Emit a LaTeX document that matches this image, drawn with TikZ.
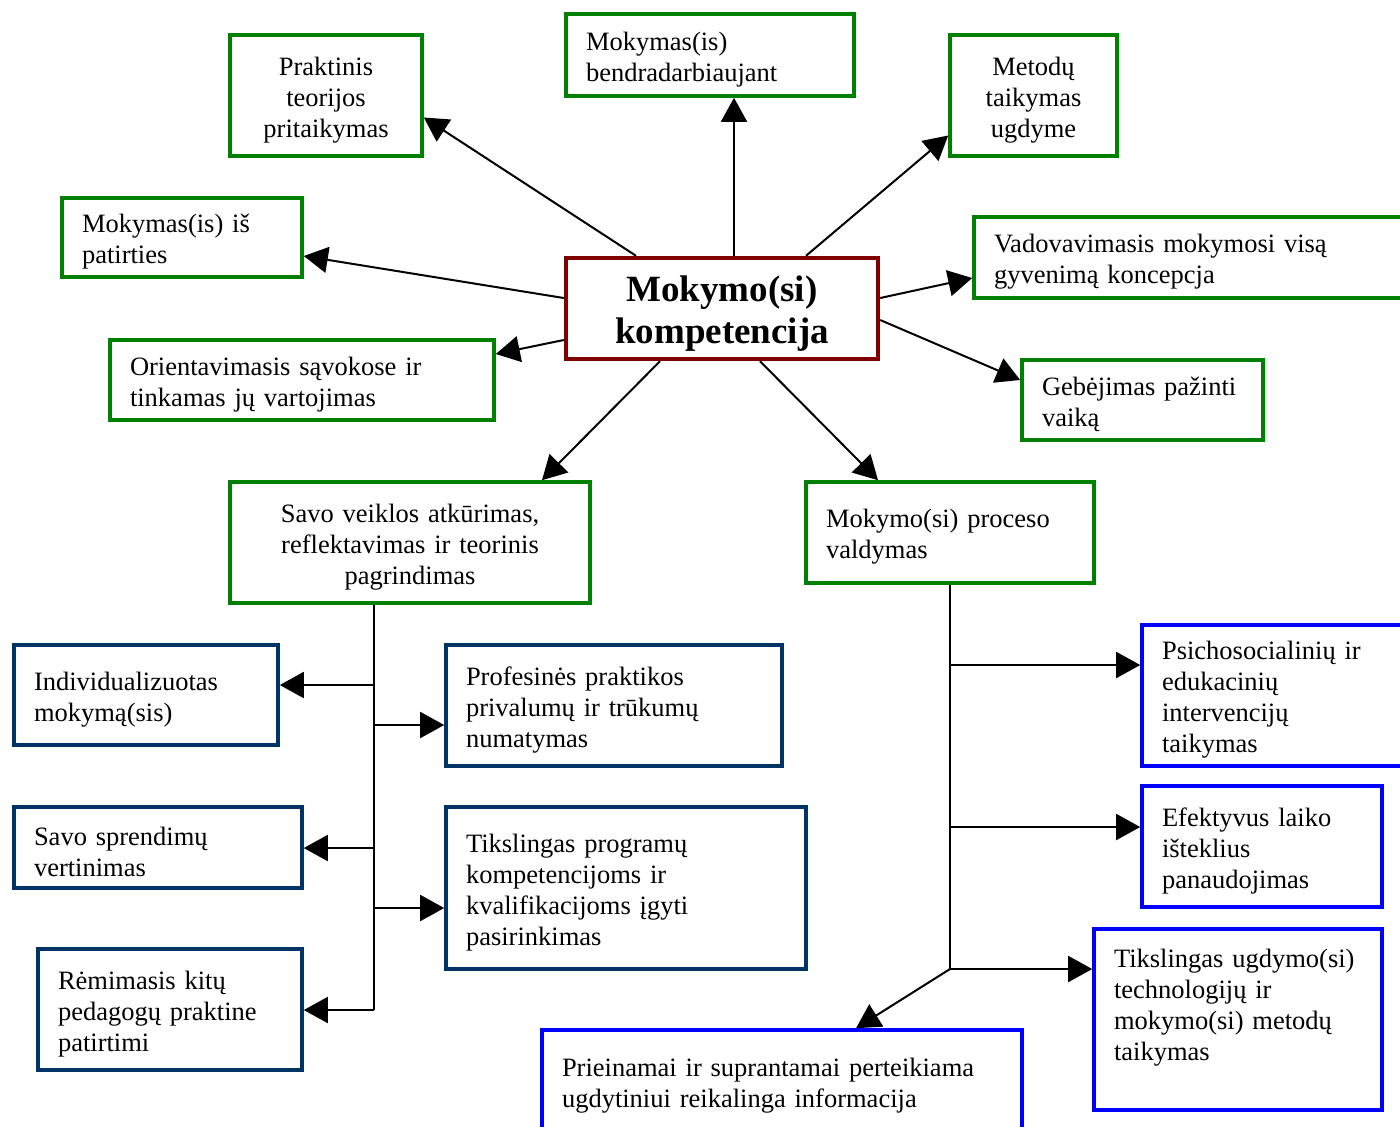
\documentclass[tikz,border=0pt]{standalone}
\usepackage{fontspec}
\setmainfont{Liberation Serif}
\usetikzlibrary{arrows.meta}
\definecolor{kgreen}{RGB}{0,128,0}
\definecolor{kred}{RGB}{128,0,0}
\definecolor{knavy}{RGB}{0,51,102}
\definecolor{kblue}{RGB}{0,0,255}

\begin{document}
\begin{tikzpicture}[x=0.5pt, y=-0.5pt,
  box/.style={draw, line width=1.8pt, fill=white, inner xsep=10pt, inner ysep=0pt,
    align=left, font=\fontsize{13.25pt}{15.5pt}\selectfont,
    execute at begin node={\rule{0pt}{13.5pt}}},
  greenbox/.style={box, draw=kgreen},
  navybox/.style={box, draw=knavy},
  bluebox/.style={box, draw=kblue},
  arr/.style={line width=1pt, -{Triangle[length=12pt, width=13pt]}}]
\useasboundingbox (0,0) rectangle (1400,1126);
% centre
\node[box, draw=kred, line width=2.2pt, align=center, text width=136pt,
  font=\fontsize{18.5pt}{21pt}\selectfont\bfseries,
  execute at begin node={\rule{0pt}{18pt}},
  minimum width=156pt, minimum height=50.5pt] (ctr) at (722,308.5) {Mokymo(si)\\kompetencija};
% upper ring
\node[greenbox, align=center, text width=76pt, minimum height=60.5pt] (prak) at (326,95.5) {Praktinis\\teorijos\\pritaikymas};
\node[greenbox, text width=124pt, minimum height=41pt] (bend) at (710,55) {Mokymas(is)\\bendradarbiaujant};
\node[greenbox, align=center, text width=63.5pt, minimum height=60.5pt] (met) at (1033.5,95.5) {Metodų\\taikymas\\ugdyme};
\node[greenbox, text width=100pt, minimum height=39.5pt] (pat) at (182,237.5) {Mokymas(is) iš\\patirties};
\node[greenbox, text width=205pt, minimum height=40.5pt] (vad) at (1199,257.5) {Vadovavimasis mokymosi visą\\gyvenimą koncepcja};
\node[greenbox, text width=172pt, minimum height=40pt] (ori) at (302,380) {Orientavimasis sąvokose ir\\tinkamas jų vartojimas};
\node[greenbox, text width=100.5pt, minimum height=40pt] (geb) at (1142.5,400) {Gebėjimas pažinti\\vaiką};
\node[greenbox, align=center, text width=160pt, minimum height=60.5pt] (sav) at (410,542.5) {Savo veiklos atkūrimas,\\reflektavimas ir teorinis\\pagrindimas};
\node[greenbox, text width=124pt, minimum height=50.5pt] (proc) at (950,532.5) {Mokymo(si) proceso\\valdymas};
% left branch
\node[navybox, text width=112pt, minimum height=50pt] (ind) at (146,695) {Individualizuotas\\mokymą(sis)};
\node[navybox, text width=148pt, minimum height=60.5pt] (prof) at (614,705.5) {Profesinės praktikos\\privalumų ir trūkumų\\numatymas};
\node[navybox, text width=124pt, minimum height=40.5pt] (spr) at (158,847.5) {Savo sprendimų\\vertinimas};
\node[navybox, text width=160pt, minimum height=81pt] (prog) at (626,888) {Tikslingas programų\\kompetencijoms ir\\kvalifikacijoms įgyti\\pasirinkimas};
\node[navybox, text width=112pt, minimum height=60.5pt] (rem) at (170,1009.5) {Rėmimasis kitų\\pedagogų praktine\\patirtimi};
% right branch
\node[bluebox, text width=120pt, minimum height=70.5pt] (psi) at (1282,695.5) {Psichosocialinių ir\\edukacinių\\intervencijų\\taikymas};
\node[bluebox, text width=100pt, minimum height=60.5pt] (efe) at (1262,846.5) {Efektyvus laiko\\išteklius\\panaudojimas};
\node[bluebox, text width=124pt, minimum height=90.5pt] (ugd) at (1238,1019.5) {Tikslingas ugdymo(si)\\technologijų ir\\mokymo(si) metodų\\taikymas\\[4pt]\mbox{}};
\node[bluebox, text width=220pt, minimum height=51pt] (pri) at (782,1081) {Prieinamai ir suprantamai perteikiama\\ugdytiniui reikalinga informacija};

% arrows from the centre
\draw[arr] ([xshift=-43pt]ctr.north) -- ([yshift=-11pt]prak.east);
\draw[arr] ([xshift=6pt]ctr.north) -- ([xshift=12pt]bend.south);
\draw[arr] ([xshift=42pt]ctr.north) -- ([yshift=-20pt]met.west);
\draw[arr] ([yshift=5.25pt]ctr.west) -- ([yshift=-9.25pt]pat.east);
\draw[arr] ([yshift=-15.75pt]ctr.west) -- ([yshift=13pt]ori.east);
\draw[arr] ([yshift=5.25pt]ctr.east) -- ([yshift=-10.25pt]vad.west);
\draw[arr] ([yshift=-5.75pt]ctr.east) -- ([yshift=10pt]geb.west);
\draw[arr] ([xshift=-31pt]ctr.south) -- ([xshift=66pt]sav.north);
\draw[arr] ([xshift=19pt]ctr.south) -- ([xshift=-36pt]proc.north);

% left trunk
\coordinate (l1) at (374,685);
\coordinate (l2) at (374,725);
\coordinate (l3) at (374,848);
\coordinate (l4) at (374,908);
\coordinate (l5) at (374,1010);
\draw[line width=1pt] (sav.south -| l5) -- (l5);
\draw[arr] (l1) -- (l1 -| ind.east);
\draw[arr] (l2) -- (l2 -| prof.west);
\draw[arr] (l3) -- (l3 -| spr.east);
\draw[arr] (l4) -- (l4 -| prog.west);
\draw[arr] (l5) -- (l5 -| rem.east);

% right trunk
\coordinate (r1) at (950,665);
\coordinate (r2) at (950,827);
\coordinate (r3) at (950,969);
\draw[line width=1pt] (proc.south -| r3) -- (r3);
\draw[arr] (r1) -- (r1 -| psi.west);
\draw[arr] (r2) -- (r2 -| efe.west);
\draw[arr] (r3) -- (r3 -| ugd.west);
\draw[arr] (r3) -- ([xshift=37pt]pri.north);
\end{tikzpicture}
\end{document}
